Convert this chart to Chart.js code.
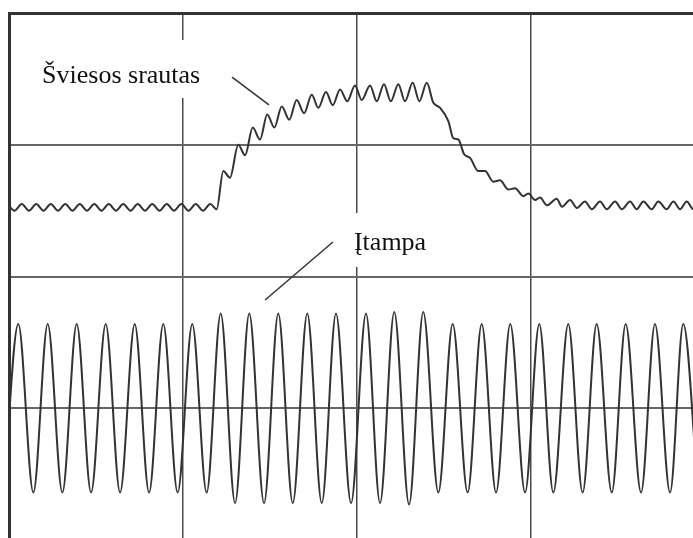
<!DOCTYPE html>
<html>
<head>
<meta charset="utf-8">
<script src="https://cdn.jsdelivr.net/npm/chart.js@4.4.0/dist/chart.umd.min.js"></script>
<style>
  html, body { margin: 0; padding: 0; background: #fff; overflow: hidden; }
</style>
</head>
<body>
<canvas id="scope" width="720" height="560"></canvas>
<script>
// time axis in ms (1 division = 120 ms), level axis in divisions
const gridTimes = [0, 120, 240, 360, 480]
const gridLevels = [0, 1, 2, 3, 4]

// voltage: peaks and troughs
const voltTime = [-3.6, 6.4, 16.8, 26.7, 36.8, 46.7, 56.6, 66.7, 76.6, 86.7, 96.6, 106.4, 116.3, 126.4, 136.3,
  146.0, 155.9, 165.7, 175.9, 185.7, 195.7, 205.7, 215.7, 225.5, 235.9, 246.2, 255.9, 265.7, 275.9, 285.7,
  296.1, 306.0, 316.3, 326.0, 335.9, 345.7, 355.9, 365.7, 375.4, 385.7, 395.6, 405.3, 415.7, 425.3, 435.9,
  445.5, 455.9, 465.0, 475.2]
const voltLevel = [0.36, 1.64, 0.36, 1.64, 0.36, 1.64, 0.36, 1.64, 0.36, 1.64, 0.36, 1.64, 0.36, 1.64, 0.36,
  1.72, 0.28, 1.72, 0.28, 1.72, 0.28, 1.72, 0.28, 1.72, 0.28, 1.72, 0.28, 1.73, 0.27, 1.73,
  0.36, 1.64, 0.36, 1.64, 0.36, 1.64, 0.36, 1.64, 0.36, 1.64, 0.36, 1.64, 0.36, 1.64, 0.36,
  1.64, 0.36, 1.64, 0.36]

// light flux: ripple crests / troughs
const fluxTime = [-1.2, 3.8, 8.8, 13.8, 18.8, 23.8, 28.8, 33.8, 38.8, 43.8, 48.8, 53.8, 58.8, 63.8, 68.8,
  73.8, 78.8, 83.8, 88.8, 93.8, 98.8, 103.8, 108.8, 113.8, 118.8, 123.8, 128.8, 133.8, 138.8,
  143.2, 147.8, 152.4, 158.1, 162.8, 168.1, 173.1, 178.1, 183.0, 188.1, 193.3, 198.4, 203.5, 208.8,
  213.3, 218.6, 223.3, 228.3, 233.3, 238.6, 243.3, 249.0, 253.6, 258.6, 263.3, 268.5, 273.1, 278.4,
  283.0, 288.1, 292.6, 297.3, 303.0, 306.4, 309.9, 313.8, 318.0, 323.7, 328.3, 334.0, 338.6, 344.4,
  349.0, 354.7, 358.2, 362.8, 366.2, 371.1, 377.7, 381.4, 386.9, 391.7, 397.2, 401.9, 407.6, 412.2,
  418.0, 422.6, 428.3, 432.9, 437.5, 443.3, 447.8, 453.6, 458.2, 462.8, 467.4, 471.9, 476.6]
const fluxLevel = [2.55, 2.50, 2.55, 2.50, 2.55, 2.50, 2.55, 2.50, 2.55, 2.50, 2.55, 2.50, 2.55, 2.50, 2.55,
  2.50, 2.55, 2.50, 2.55, 2.50, 2.55, 2.50, 2.55, 2.50, 2.55, 2.50, 2.55, 2.50, 2.55,
  2.51, 2.80, 2.75, 3.00, 2.92, 3.13, 3.04, 3.23, 3.13, 3.29, 3.19, 3.34, 3.24, 3.38,
  3.28, 3.40, 3.30, 3.42, 3.33, 3.45, 3.34, 3.45, 3.33, 3.46, 3.33, 3.46, 3.33, 3.47,
  3.33, 3.47, 3.32, 3.28, 3.18, 3.05, 3.04, 2.93, 2.90, 2.80, 2.80, 2.72, 2.73, 2.66,
  2.67, 2.61, 2.63, 2.58, 2.60, 2.54, 2.59, 2.53, 2.58, 2.52, 2.57, 2.51, 2.57, 2.51,
  2.57, 2.51, 2.57, 2.51, 2.57, 2.51, 2.57, 2.51, 2.57, 2.51, 2.57, 2.51, 2.57]

// captions, in chart units
const captions = [
  { text: 'Šviesos srautas', t: 22.8, v: 3.47, box: [17.9, 138.6, 3.795, 3.355], ptr: [153.8, 3.514, 179.3, 3.302] },
  { text: 'Įtampa', t: 237.9, v: 2.20, box: [231.7, 293.8, 2.482, 2.072], ptr: [223.4, 2.262, 176.6, 1.822] }
]

const toPoints = (ts, vs) => ts.map((t, i) => ({ x: t, y: vs[i] }))

const captionPlugin = {
  id: 'captions',
  beforeDatasetsDraw(chart) {
    const { ctx, scales: { x, y } } = chart
    ctx.save()
    captions.forEach(c => {
      const bx0 = x.getPixelForValue(c.box[0]), bx1 = x.getPixelForValue(c.box[1])
      const by0 = y.getPixelForValue(c.box[2]), by1 = y.getPixelForValue(c.box[3])
      ctx.fillStyle = '#fff'
      ctx.fillRect(bx0, by0, bx1 - bx0, by1 - by0)
      ctx.fillStyle = '#111'
      ctx.font = '26px "Liberation Serif", "Times New Roman", serif'
      ctx.textBaseline = 'alphabetic'
      ctx.fillText(c.text, x.getPixelForValue(c.t), y.getPixelForValue(c.v))
      ctx.strokeStyle = '#333'
      ctx.lineWidth = 1.5
      ctx.beginPath()
      ctx.moveTo(x.getPixelForValue(c.ptr[0]), y.getPixelForValue(c.ptr[1]))
      ctx.lineTo(x.getPixelForValue(c.ptr[2]), y.getPixelForValue(c.ptr[3]))
      ctx.stroke()
    })
    ctx.restore()
  }
}

new Chart(document.getElementById('scope'), {
  type: 'line',
  data: {
    datasets: [{
      label: 'Šviesos srautas',
      data: toPoints(fluxTime, fluxLevel),
      borderColor: '#333',
      borderWidth: 2,
      pointRadius: 0,
      cubicInterpolationMode: 'monotone'
    }, {
      label: 'Įtampa',
      data: toPoints(voltTime, voltLevel),
      borderColor: '#333',
      borderWidth: 2,
      pointRadius: 0,
      cubicInterpolationMode: 'monotone'
    }]
  },
  options: {
    responsive: false,
    animation: false,
    layout: { padding: { left: 9, top: 13, right: 15, bottom: 20 } },
    plugins: { legend: { display: false }, tooltip: { enabled: false } },
    scales: {
      x: {
        type: 'linear', position: 'top', min: 0, max: 480,
        afterBuildTicks: s => { s.ticks = gridTimes.map(v => ({ value: v })) },
        ticks: { display: false },
        grid: { color: '#4a4a4a', lineWidth: 1.5, drawTicks: false },
        border: { color: '#333', width: 3 }
      },
      y: {
        type: 'linear', min: 0, max: 4,
        afterBuildTicks: s => { s.ticks = gridLevels.map(v => ({ value: v })) },
        ticks: { display: false },
        grid: { color: '#666', lineWidth: 2, drawTicks: false },
        border: { color: '#333', width: 3 }
      }
    }
  },
  plugins: [captionPlugin]
})
</script>
</body>
</html>
